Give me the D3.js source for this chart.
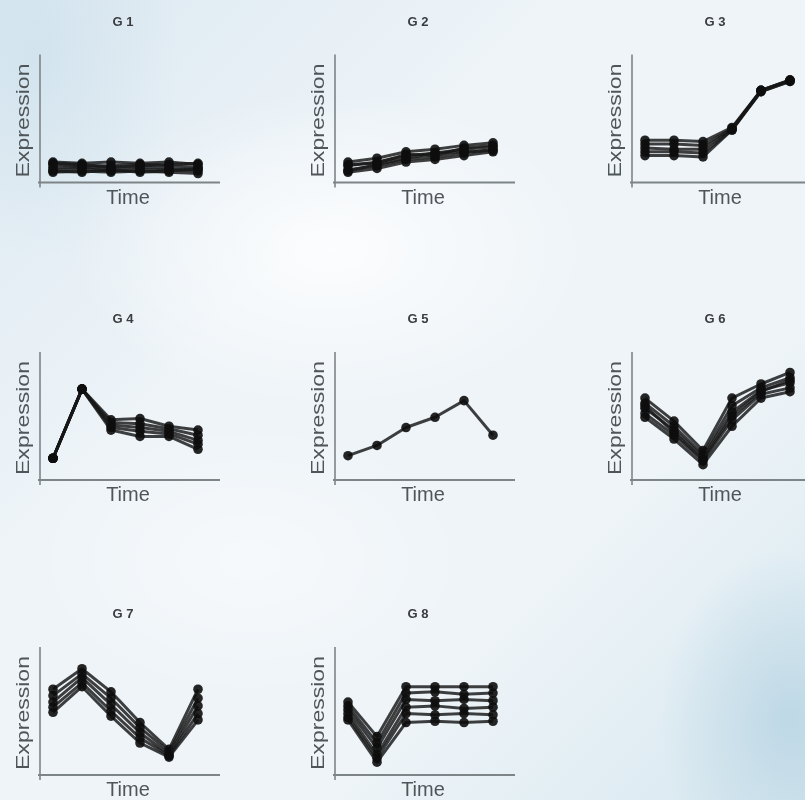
<!DOCTYPE html>
<html>
<head>
<meta charset="utf-8">
<script src="https://cdnjs.cloudflare.com/ajax/libs/d3/7.8.5/d3.min.js"></script>
<style>
  html, body { margin: 0; padding: 0; background: #eef4f8; }
  svg { display: block; }
</style>
</head>
<body>
<div class="chart"></div>
<script>
// time points shared by every panel
const timePoints = [1, 2, 3, 4, 5, 6];
const panelNames = ['G 1', 'G 2', 'G 3', 'G 4', 'G 5', 'G 6', 'G 7', 'G 8'];

// expression profiles per cluster (arbitrary units, 0..10)
const g1 = [
  [1.6, 1.5, 1.6, 1.5, 1.6, 1.4],
  [1.4, 1.3, 1.3, 1.4, 1.3, 1.2],
  [1.2, 1.2, 1.1, 1.2, 1.1, 1.0],
  [1.0, 1.1, 0.9, 1.0, 1.0, 0.9],
  [0.8, 0.9, 0.8, 0.9, 0.8, 0.7],
  [1.5, 1.4, 1.2, 1.3, 1.4, 1.5],
  [0.9, 0.8, 1.0, 0.8, 0.9, 1.1]
];
const g2 = [
  [1.6, 1.9, 2.4, 2.6, 2.9, 3.1],
  [1.3, 1.6, 2.1, 2.3, 2.6, 2.8],
  [1.0, 1.3, 1.8, 2.0, 2.3, 2.6],
  [0.8, 1.1, 1.6, 1.8, 2.1, 2.4],
  [1.4, 1.5, 2.2, 2.1, 2.7, 2.9],
  [0.9, 1.4, 1.9, 2.3, 2.4, 2.5]
];
const g3 = [
  [3.3, 3.3, 3.2, 4.3, 7.2, 8.0],
  [3.0, 3.0, 2.9, 4.2, 7.2, 8.0],
  [2.7, 2.6, 2.6, 4.2, 7.1, 7.9],
  [2.4, 2.4, 2.3, 4.1, 7.2, 8.0],
  [2.1, 2.1, 2.0, 4.1, 7.1, 7.9]
];
const g4 = [
  [1.7, 7.1, 4.7, 4.8, 4.2, 3.9],
  [1.7, 7.1, 4.5, 4.4, 4.0, 3.5],
  [1.7, 7.1, 4.3, 4.1, 3.8, 3.1],
  [1.7, 7.1, 4.1, 3.8, 3.6, 2.8],
  [1.7, 7.1, 3.9, 3.4, 3.4, 2.4]
];
const g5 = [
  [1.9, 2.7, 4.1, 4.9, 6.2, 3.5]
];
const g6 = [
  [6.4, 4.6, 2.3, 6.4, 7.5, 8.4],
  [6.0, 4.2, 2.0, 5.8, 7.2, 8.0],
  [5.6, 3.9, 1.8, 5.3, 7.0, 7.6],
  [5.2, 3.5, 1.5, 4.7, 6.7, 7.2],
  [4.9, 3.2, 1.2, 4.2, 6.4, 6.9],
  [5.8, 3.7, 1.6, 5.0, 6.9, 7.8]
];
const g7 = [
  [6.7, 8.3, 6.5, 4.1, 2.0, 6.7],
  [6.2, 7.9, 6.0, 3.7, 1.8, 6.0],
  [5.7, 7.6, 5.5, 3.3, 1.6, 5.4],
  [5.3, 7.2, 5.0, 2.9, 1.5, 4.8],
  [4.9, 6.9, 4.6, 2.5, 1.4, 4.3]
];
const g8 = [
  [5.7, 3.0, 6.9, 6.9, 6.9, 6.9],
  [5.4, 2.5, 6.4, 6.5, 6.3, 6.4],
  [5.1, 2.1, 5.9, 5.8, 5.9, 5.8],
  [4.8, 1.6, 5.3, 5.4, 5.2, 5.3],
  [4.5, 1.3, 4.8, 4.7, 4.8, 4.7],
  [4.3, 1.0, 4.1, 4.2, 4.1, 4.2]
];
const panelSeries = [g1, g2, g3, g4, g5, g6, g7, g8];

const width = 805;
const height = 800;
const colX = [40, 335, 632];      // left edge of each panel's y axis
const rowY = [182.5, 480, 775];   // baseline of each panel's x axis
const plotW = 180;
const plotH = 128;

const svg = d3
  .select('.chart')
  .append('svg')
  .attr('width', width)
  .attr('height', height);

// soft photographic background
const defs = svg.append('defs');
const bg = defs.append('linearGradient')
  .attr('id', 'bg')
  .attr('x1', 0).attr('y1', 0).attr('x2', 1).attr('y2', 1);
bg.append('stop').attr('offset', '0%').attr('stop-color', '#dbe8f1');
bg.append('stop').attr('offset', '35%').attr('stop-color', '#eef4f8');
bg.append('stop').attr('offset', '70%').attr('stop-color', '#eef4f8');
bg.append('stop').attr('offset', '100%').attr('stop-color', '#d6e7ef');

const blob = defs.append('radialGradient').attr('id', 'blob');
blob.append('stop').attr('offset', '0%').attr('stop-color', '#b9d5e4').attr('stop-opacity', 0.85);
blob.append('stop').attr('offset', '100%').attr('stop-color', '#b9d5e4').attr('stop-opacity', 0);

const blob2 = defs.append('radialGradient').attr('id', 'blob2');
blob2.append('stop').attr('offset', '0%').attr('stop-color', '#ffffff').attr('stop-opacity', 0.8);
blob2.append('stop').attr('offset', '100%').attr('stop-color', '#ffffff').attr('stop-opacity', 0);

// slight softening, the reference is a blurry photo
defs.append('filter')
  .attr('id', 'soft')
  .append('feGaussianBlur')
  .attr('stdDeviation', 0.6);

svg.append('rect').attr('width', width).attr('height', height).attr('fill', 'url(#bg)');
svg.append('ellipse').attr('cx', 790).attr('cy', 720).attr('rx', 130).attr('ry', 170).attr('fill', 'url(#blob)');
svg.append('ellipse').attr('cx', 40).attr('cy', 60).attr('rx', 140).attr('ry', 200).attr('fill', 'url(#blob)').attr('opacity', 0.35);
svg.append('ellipse').attr('cx', 330).attr('cy', 250).attr('rx', 260).attr('ry', 160).attr('fill', 'url(#blob2)');
svg.append('ellipse').attr('cx', 250).attr('cy', 560).attr('rx', 220).attr('ry', 140).attr('fill', 'url(#blob2)').attr('opacity', 0.6);

const x = d3.scalePoint()
  .domain(timePoints)
  .range([13, 158]);
const y = d3.scaleLinear()
  .domain([0, 10])
  .range([0, -plotH]);

const line = d3.line()
  .x((d, i) => x(timePoints[i]))
  .y(d => y(d));

panelSeries.forEach((series, p) => {
  const g = svg.append('g')
    .attr('transform', 'translate(' + colX[p % 3] + ',' + rowY[Math.floor(p / 3)] + ')')
    .attr('filter', 'url(#soft)');

  // axes
  g.append('line')
    .attr('x1', 0).attr('x2', 0)
    .attr('y1', -plotH).attr('y2', 5)
    .attr('stroke', '#7d8588').attr('stroke-width', 1.6);
  g.append('line')
    .attr('x1', -2).attr('x2', plotW)
    .attr('y1', 0).attr('y2', 0)
    .attr('stroke', '#7d8588').attr('stroke-width', 1.8);

  g.append('text')
    .attr('x', 83)
    .attr('y', -157)
    .attr('text-anchor', 'middle')
    .attr('font-family', 'Liberation Sans, Arial, sans-serif')
    .attr('font-weight', 'bold')
    .attr('font-size', 13)
    .attr('fill', '#3a3d40')
    .text(panelNames[p]);

  g.append('text')
    .attr('x', 88)
    .attr('y', 21)
    .attr('text-anchor', 'middle')
    .attr('font-family', 'Liberation Sans, Arial, sans-serif')
    .attr('font-size', 20)
    .attr('fill', '#50565a')
    .text('Time');

  g.append('text')
    .attr('transform', 'translate(-11,' + (-62) + ') rotate(-90)')
    .attr('text-anchor', 'middle')
    .attr('font-family', 'Liberation Sans, Arial, sans-serif')
    .attr('font-size', 19)
    .attr('fill', '#50565a')
    .attr('textLength', 114)
    .attr('lengthAdjust', 'spacingAndGlyphs')
    .text('Expression');

  const prof = g.selectAll('.profile')
    .data(series)
    .enter()
    .append('g')
    .attr('class', 'profile');

  prof.append('path')
    .attr('d', d => line(d))
    .attr('fill', 'none')
    .attr('stroke', '#141414')
    .attr('stroke-opacity', 0.8)
    .attr('stroke-width', 3)
    .attr('stroke-linejoin', 'round');

  prof.selectAll('circle')
    .data(d => d)
    .enter()
    .append('circle')
    .attr('cx', (d, i) => x(timePoints[i]))
    .attr('cy', d => y(d))
    .attr('r', 4.8)
    .attr('fill', '#0d0d0d')
    .attr('fill-opacity', 0.9);
});
</script>
</body>
</html>
